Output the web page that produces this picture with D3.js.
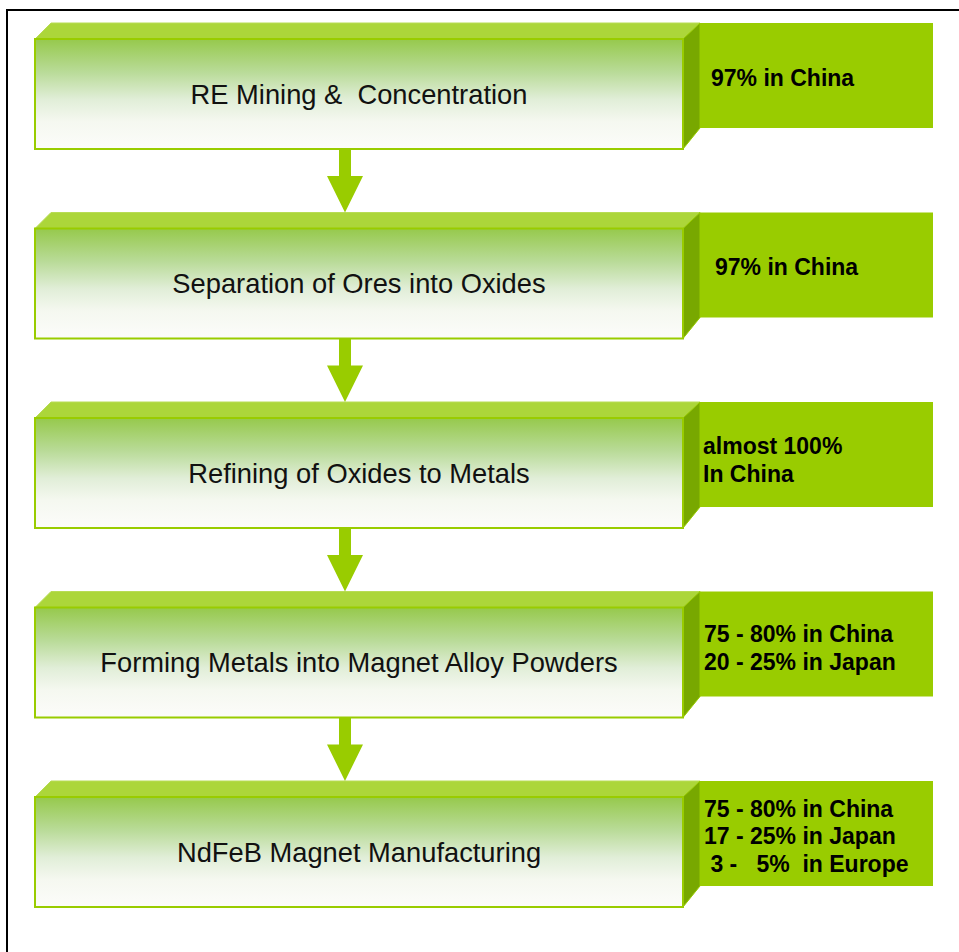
<!DOCTYPE html>
<html><head><meta charset="utf-8">
<script src="https://cdn.jsdelivr.net/npm/d3@7"></script>
<style>body{margin:0;background:#fff}svg{display:block}</style>
</head><body>
<script>
const steps = ["RE Mining &  Concentration","Separation of Ores into Oxides","Refining of Oxides to Metals","Forming Metals into Magnet Alloy Powders","NdFeB Magnet Manufacturing"];
const shares = [
  ["97% in China"],
  ["97% in China"],
  ["almost 100%","In China"],
  ["75 - 80% in China","20 - 25% in Japan"],
  ["75 - 80% in China","17 - 25% in Japan"," 3 -   5%  in Europe"]
];
const stepIndex = d3.range(steps.length);

const W = 959, H = 952;
const FONT = "'Liberation Sans', Arial, sans-serif";
const svg = d3.select("body").append("svg").attr("width", W).attr("height", H);

const defs = svg.append("defs");
const g = defs.append("linearGradient").attr("id","front").attr("x1",0).attr("y1",0).attr("x2",0).attr("y2",1);
g.append("stop").attr("offset","0").attr("stop-color","#96c94c");
g.append("stop").attr("offset","0.3").attr("stop-color","#b9db98");
g.append("stop").attr("offset","0.55").attr("stop-color","#e1eed8");
g.append("stop").attr("offset","0.75").attr("stop-color","#f5f8f0");
g.append("stop").attr("offset","1").attr("stop-color","#fcfcfa");

svg.append("rect").attr("x",7).attr("y",10).attr("width",W).attr("height",H).attr("fill","none").attr("stroke","#000").attr("stroke-width",2);

const y = d3.scaleLinear().domain([0, steps.length-1]).range([23, 781]);
const x = d3.scaleLinear().domain([0,1]).range([35, 683]);
const depth = 16, boxH = 110, info = {x0:700, x1:933, h:105};

const textPos = [[711,63],[715,62.5],[703,52],[704,50.5],[704,35.5]];

const grp = svg.selectAll("g.step").data(stepIndex).join("g").attr("class","step");

stepIndex.slice(0,-1).forEach(i => {
  const top = y(i) + depth + boxH, tip = y(i+1);
  const cx = 345;
  svg.append("path")
    .attr("d", `M${cx-6},${top} L${cx+6},${top} L${cx+6},${top+27} L${cx+18},${top+27} L${cx},${tip} L${cx-18},${top+27} L${cx-6},${top+27} Z`)
    .attr("fill","#99cc00");
});

grp.each(function(i){
  const s = d3.select(this);
  const t = y(i), ft = t + depth, fb = ft + boxH;
  const L = x(0), R = x(1);
  s.append("rect").attr("x",info.x0).attr("y",t).attr("width",info.x1-info.x0).attr("height",info.h)
    .attr("fill","#99cc00");
  s.append("path").attr("d",`M${L},${ft} L${L+depth},${t} L${R+depth+1},${t} L${R},${ft} Z`).attr("fill","#acd63a").attr("stroke","#b8dc55").attr("stroke-width",1);
  s.append("path").attr("d",`M${R},${ft} L${R+depth+1},${t} L${R+depth+1},${t+info.h} L${R},${fb} Z`).attr("fill","#78a800").attr("stroke","#99cc00").attr("stroke-width",1);
  s.append("rect").attr("x",L).attr("y",ft).attr("width",R-L).attr("height",boxH)
    .attr("fill","url(#front)").attr("stroke","#99cc00").attr("stroke-width",2);
  s.append("text").attr("x",(L+R)/2).attr("y",ft+boxH/2).attr("dy","0.35em")
    .attr("text-anchor","middle").attr("font-family",FONT)
    .attr("font-size",27.3).attr("fill","#111").style("white-space","pre").text(steps[i]);
  const lines = shares[i];
  const lh = 27.8;
  lines.forEach((ln,k)=>{
    s.append("text").attr("x",textPos[i][0]).attr("y",t + textPos[i][1] + k*lh)
      .attr("font-family",FONT).attr("font-weight","bold")
      .attr("font-size",23).attr("fill","#000")
      .style("white-space","pre").text(ln);
  });
});
</script>
</body></html>
